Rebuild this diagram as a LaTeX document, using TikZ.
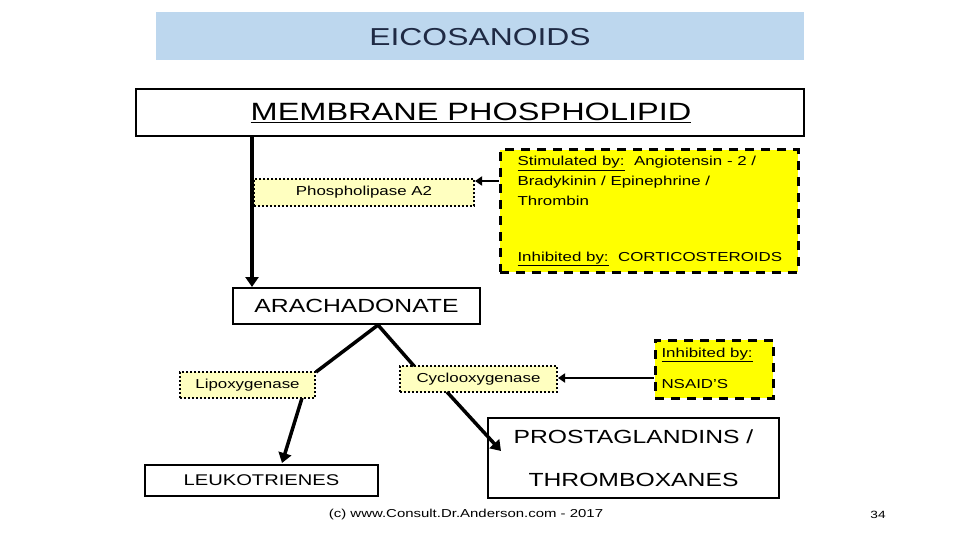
\documentclass[tikz,border=0pt]{standalone}
\usepackage{fontspec}
\setmainfont[FakeStretch=1.3]{Liberation Sans}
\usetikzlibrary{arrows.meta}
\definecolor{band}{HTML}{BDD7EE}
\definecolor{ly}{HTML}{FFFFC0}
\definecolor{yy}{HTML}{FFFF00}
\definecolor{ttl}{HTML}{1F2A44}
\tikzset{
 bigbox/.style={draw,line width=2.5pt,fill=white,inner sep=0pt},
 enz/.style={draw,line width=2pt,dotted,fill=ly,inner sep=0pt,font=\fontsize{13}{15}\selectfont},
 inh/.style={draw,line width=3pt,dash pattern=on 9pt off 7pt,fill=yy,inner sep=0pt},
 sm/.style={font=\fontsize{13}{20}\selectfont},
 arr/.style={line width=3.5pt,-{Triangle[length=10pt,width=13pt]}},
 ln/.style={line width=3.5pt},
 sarr/.style={line width=2pt,-{Triangle[length=7pt,width=9pt]}}
}
\begin{document}
\begin{tikzpicture}[x=1pt,y=-1pt]
\useasboundingbox (0,0) rectangle (960,540);
\fill[band] (156,12) rectangle (804,60);
\node[text=ttl] (title) at (480,37) {\fontsize{24.5}{28}\selectfont EICOSANOIDS};
\node[bigbox,minimum width=668pt,minimum height=47pt] (mem) at (470,112.5) {};
\node (memt) at (471,113) {\fontsize{25}{28}\selectfont\underline{MEMBRANE PHOSPHOLIPID}};
\node[enz,minimum width=220pt,minimum height=27pt] (pla) at (364,192.5) {Phospholipase A2};
\node[inh,minimum width=298pt,minimum height=122pt] (stim) at (649,211) {};
\node[anchor=north west,align=left,sm] (stimt) at (514,153) {\underline{Stimulated by:}\ \ Angiotensin - 2 /\\Bradykinin / Epinephrine /\\Thrombin};
\node[anchor=west,sm] (inht) at (514,259) {\underline{Inhibited by:}\ \ CORTICOSTEROIDS};
\node[bigbox,minimum width=247pt,minimum height=36pt] (ara) at (356.5,306) {\fontsize{19}{22}\selectfont ARACHADONATE};
\coordinate (apex) at (378,325);
\coordinate (top) at (252,137);
\draw[arr] (top) -- (252,287);
\draw[sarr] (stim.west |- 0,181) -- (pla.east |- 0,181);
\node[enz,minimum width=135pt,minimum height=26pt] (lip) at (247.5,385) {Lipoxygenase};
\node[enz,minimum width=157pt,minimum height=26pt] (cox) at (478.5,379) {Cyclooxygenase};
\node[inh,minimum width=118pt,minimum height=58pt] (nsaid) at (714,369) {};
\node[anchor=west,sm] (nt1) at (658,355) {\underline{Inhibited by:}};
\node[anchor=west,sm] (nt2) at (658,384) {NSAID’S};
\draw[sarr] (nsaid.west |- 0,378) -- (cox.east |- 0,378);
\node[bigbox,minimum width=291pt,minimum height=80pt] (pg) at (633.5,458) {};
\node (pg1) at (633.5,437) {\fontsize{19}{22}\selectfont PROSTAGLANDINS /};
\node (pg2) at (633.5,480) {\fontsize{19}{22}\selectfont THROMBOXANES};
\node[bigbox,minimum width=233pt,minimum height=31pt] (lt) at (261.5,480.5) {\fontsize{15.5}{18}\selectfont LEUKOTRIENES};
\draw[ln] (apex) -- (316,372);
\draw[arr] (302,398) -- (282,463);
\draw[ln] (apex) -- (414,366);
\draw[arr] (447,392) -- (501,451);
\node (foot) at (466,515) {\fontsize{11.5}{13}\selectfont (c) www.Consult.Dr.Anderson.com - 2017};
\node (pgnum) at (878,515) {\fontsize{10.5}{12}\selectfont 34};
\end{tikzpicture}
\end{document}
